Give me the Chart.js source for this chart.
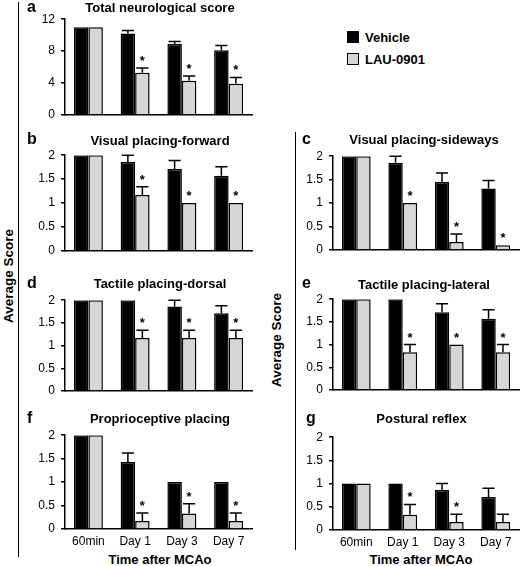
<!DOCTYPE html>
<html>
<head>
<meta charset="utf-8">
<script src="https://cdn.jsdelivr.net/npm/chart.js@4.4.1/dist/chart.umd.min.js"></script>
<style>
  html, body { margin:0; padding:0; background:#fff; }
  #wrap { position:relative; width:520px; height:566px; overflow:hidden; font-family:'Liberation Sans', Arial, sans-serif; color:#000; }
  #wrap canvas { position:absolute; }
  .t { position:absolute; white-space:nowrap; font-weight:bold; line-height:1; }
  .ttl { font-size:13px; transform:translate(-50%,-50%); }
  .let { font-size:16px; transform:translateY(-50%); }
  .vline { position:absolute; background:#000; width:1.5px; }
  .ylab { position:absolute; font-size:13.5px; font-weight:bold; white-space:nowrap; transform:translate(-50%,-50%) rotate(-90deg); line-height:1; }
  .sw { position:absolute; width:10px; height:10px; border:1.5px solid #000; }
  .leg { position:absolute; font-size:13px; font-weight:bold; transform:translateY(-50%); line-height:1; }
</style>
</head>
<body>
<div id="wrap"></div>
<script>
// ---------- DATA ----------
const categories = ['60min', 'Day 1', 'Day 3', 'Day 7'];
const seriesNames = ['Vehicle', 'LAU-0901'];

// a: Total neurological score
const vehicleA = [11, 10.2, 8.9, 8.1];
const vehicleAErr = [0, 0.4, 0.3, 0.6];
const lauA = [11, 5.3, 4.3, 3.9];
const lauAErr = [0, 0.6, 0.6, 0.8];
const sigA = [false, true, true, true];

// b: Visual placing-forward
const vehicleB = [2, 1.86, 1.71, 1.57];
const vehicleBErr = [0, 0.14, 0.18, 0.19];
const lauB = [2, 1.17, 1.0, 1.0];
const lauBErr = [0, 0.17, 0, 0];
const sigB = [false, true, true, true];

// c: Visual placing-sideways
const vehicleC = [2, 1.86, 1.45, 1.31];
const vehicleCErr = [0, 0.14, 0.19, 0.17];
const lauC = [2, 1.0, 0.17, 0.1];
const lauCErr = [0, 0, 0.17, 0];
const sigC = [false, true, true, true];

// d: Tactile placing-dorsal
const vehicleD = [2, 2, 1.86, 1.71];
const vehicleDErr = [0, 0, 0.14, 0.17];
const lauD = [2, 1.17, 1.17, 1.17];
const lauDErr = [0, 0.17, 0.17, 0.17];
const sigD = [false, true, true, true];

// e: Tactile placing-lateral
const vehicleE = [2, 2, 1.71, 1.57];
const vehicleEErr = [0, 0, 0.19, 0.2];
const lauE = [2, 0.83, 1.0, 0.83];
const lauEErr = [0, 0.17, 0, 0.17];
const sigE = [false, true, true, true];

// f: Proprioceptive placing
const vehicleF = [2, 1.43, 1.0, 1.0];
const vehicleFErr = [0, 0.19, 0, 0];
const lauF = [2, 0.17, 0.33, 0.17];
const lauFErr = [0, 0.17, 0.21, 0.17];
const sigF = [false, true, true, true];

// g: Postural reflex
const vehicleG = [1, 1, 0.86, 0.71];
const vehicleGErr = [0, 0, 0.14, 0.19];
const lauG = [1, 0.33, 0.17, 0.17];
const lauGErr = [0, 0.22, 0.17, 0.17];
const sigG = [false, true, true, false];

const ticksA = [0, 4, 8, 12];
const ticksScore = [0, 0.5, 1, 1.5, 2];

// ---------- LAYOUT ----------
const FONT = "'Liberation Sans', Arial, sans-serif";
const YW = 45, PT = 12, PR = 1, XH = 22;
const panels = [
  {letter:'a', title:'Total neurological score', veh:vehicleA, vehErr:vehicleAErr, lau:lauA, lauErr:lauAErr, sig:sigA, max:12, step:2, labels:ticksA, showX:false,
   rect:{l:65, t:18, r:252, b:115}, titlePos:[160, 7], letPos:[27, 7]},
  {letter:'b', title:'Visual placing-forward', veh:vehicleB, vehErr:vehicleBErr, lau:lauB, lauErr:lauBErr, sig:sigB, max:2, step:0.5, labels:ticksScore, showX:false,
   rect:{l:65, t:154, r:252, b:251}, titlePos:[160, 139.5], letPos:[27, 139]},
  {letter:'c', title:'Visual placing-sideways', veh:vehicleC, vehErr:vehicleCErr, lau:lauC, lauErr:lauCErr, sig:sigC, max:2, step:0.5, labels:ticksScore, showX:false,
   rect:{l:333, t:155, r:519, b:250}, titlePos:[424, 138.5], letPos:[302, 139]},
  {letter:'d', title:'Tactile placing-dorsal', veh:vehicleD, vehErr:vehicleDErr, lau:lauD, lauErr:lauDErr, sig:sigD, max:2, step:0.5, labels:ticksScore, showX:false,
   rect:{l:65, t:299, r:252, b:391}, titlePos:[160, 283], letPos:[27, 283]},
  {letter:'e', title:'Tactile placing-lateral', veh:vehicleE, vehErr:vehicleEErr, lau:lauE, lauErr:lauEErr, sig:sigE, max:2, step:0.5, labels:ticksScore, showX:false,
   rect:{l:333, t:298, r:519, b:390}, titlePos:[424, 283.5], letPos:[302, 283]},
  {letter:'f', title:'Proprioceptive placing', veh:vehicleF, vehErr:vehicleFErr, lau:lauF, lauErr:lauFErr, sig:sigF, max:2, step:0.5, labels:ticksScore, showX:true,
   rect:{l:65, t:434, r:252, b:529}, titlePos:[160, 418], letPos:[27, 418]},
  {letter:'g', title:'Postural reflex', veh:vehicleG, vehErr:vehicleGErr, lau:lauG, lauErr:lauGErr, sig:sigG, max:2, step:0.5, labels:ticksScore, showX:true,
   rect:{l:333, t:436, r:519, b:530}, titlePos:[421.5, 418], letPos:[306, 418]}
];

const wrap = document.getElementById('wrap');
function addDiv(cls, text, css) {
  const d = document.createElement('div');
  d.className = cls;
  if (text) d.textContent = text;
  Object.assign(d.style, css);
  wrap.appendChild(d);
  return d;
}

// vertical separator lines
addDiv('vline', '', {left:'17.5px', top:'2px', height:'555px'});
addDiv('vline', '', {left:'294.5px', top:'132px', height:'418px'});
// y axis titles
addDiv('ylab', 'Average Score', {left:'8.5px', top:'276px'});
addDiv('ylab', 'Average Score', {left:'277px', top:'340px'});
// x axis titles
addDiv('t ttl', 'Time after MCAo', {left:'160px', top:'559px'});
addDiv('t ttl', 'Time after MCAo', {left:'421px', top:'559px'});
// legend
addDiv('sw', '', {left:'347px', top:'31px', background:'#000'});
addDiv('leg', seriesNames[0], {left:'365px', top:'37px'});
addDiv('sw', '', {left:'347px', top:'53px', background:'#d6d6d6'});
addDiv('leg', seriesNames[1], {left:'365px', top:'59px'});

const errPlugin = {
  id: 'errStars',
  afterDatasetsDraw(chart, args, opts) {
    const ctx = chart.ctx;
    const ys = chart.scales.y;
    const errs = opts.errs, sig = opts.sig;
    ctx.save();
    ctx.strokeStyle = '#000';
    ctx.lineWidth = 1.5;
    chart.data.datasets.forEach((ds, di) => {
      const meta = chart.getDatasetMeta(di);
      meta.data.forEach((el, i) => {
        const e = errs[di][i];
        const v = ds.data[i];
        const x = el.x;
        const w = el.width;
        let top = ys.getPixelForValue(v);
        if (e > 0) {
          const yTop = ys.getPixelForValue(v + e);
          ctx.beginPath();
          ctx.moveTo(x, top);
          ctx.lineTo(x, yTop);
          ctx.moveTo(x - w * 0.42, yTop);
          ctx.lineTo(x + w * 0.42, yTop);
          ctx.stroke();
          top = yTop;
        }
        if (di === 1 && sig[i]) {
          ctx.fillStyle = '#000';
          ctx.font = 'bold 13px ' + FONT;
          ctx.textAlign = 'center';
          ctx.textBaseline = 'alphabetic';
          ctx.fillText('*', x, top - 3);
        }
      });
    });
    ctx.restore();
  }
};

panels.forEach(p => {
  const R = p.rect;
  const cw = Math.round(R.r - R.l + YW + PR);
  const chh = Math.round(R.b - R.t + PT + XH);
  const cv = document.createElement('canvas');
  cv.width = cw; cv.height = chh;
  cv.style.width = cw + 'px'; cv.style.height = chh + 'px';
  cv.style.left = (R.l - YW) + 'px';
  cv.style.top = (R.t - PT) + 'px';
  wrap.appendChild(cv);

  addDiv('t ttl', p.title, {left:p.titlePos[0] + 'px', top:p.titlePos[1] + 'px'});
  addDiv('t let', p.letter, {left:p.letPos[0] + 'px', top:p.letPos[1] + 'px'});

  new Chart(cv, {
    type: 'bar',
    data: {
      labels: categories,
      datasets: [
        {label: seriesNames[0], data: p.veh, backgroundColor:'#000', borderColor:'#000', borderWidth:1.5, categoryPercentage:0.62, barPercentage:1},
        {label: seriesNames[1], data: p.lau, backgroundColor:'#d6d6d6', borderColor:'#000', borderWidth:1.5, categoryPercentage:0.62, barPercentage:1}
      ]
    },
    options: {
      responsive: false,
      maintainAspectRatio: false,
      animation: false,
      devicePixelRatio: 1,
      layout: {autoPadding: false, padding: {top: PT, right: PR, left: 0, bottom: 0}},
      plugins: {
        legend: {display: false},
        tooltip: {enabled: false},
        errStars: {errs: [p.vehErr, p.lauErr], sig: p.sig}
      },
      scales: {
        x: {
          grid: {display: false, drawTicks: false, tickLength: 0},
          border: {display: true, color: '#000', width: 1.5},
          ticks: {display: p.showX, color: '#000', font: {family: FONT, size: 12}, padding: 5, maxRotation: 0, autoSkip: false},
          afterFit(s) { s.height = XH; }
        },
        y: {
          min: 0, max: p.max,
          border: {display: true, color: '#000', width: 1.5},
          grid: {drawOnChartArea: false, drawTicks: true, tickLength: 4, color: '#000', lineWidth: 1.5},
          ticks: {
            stepSize: p.step, color: '#000', padding: 6, font: {family: FONT, size: 12},
            callback: (v) => (p.labels.some(t => Math.abs(t - v) < 1e-9) ? String(v) : '')
          },
          afterFit(s) { s.width = YW; }
        }
      }
    },
    plugins: [errPlugin]
  });
});
</script>
</body>
</html>
